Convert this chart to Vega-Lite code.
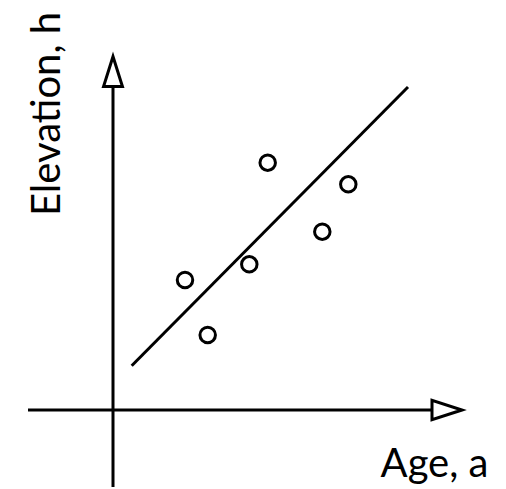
{
  "$schema": "https://vega.github.io/schema/vega-lite/v6.json",
  "width": 506,
  "height": 489,
  "autosize": {"type": "fit", "contains": "padding"},
  "padding": 0,
  "background": "white",
  "config": {"view": {"stroke": null}},
  "datasets": {
    "points": [
      {"age": 7.2, "elev": 13.0},
      {"age": 9.47, "elev": 7.5},
      {"age": 13.63, "elev": 14.57},
      {"age": 15.47, "elev": 24.73},
      {"age": 20.93, "elev": 17.83},
      {"age": 23.53, "elev": 22.57}
    ],
    "fit": [
      {"age": 1.87, "elev": 4.43},
      {"age": 29.5, "elev": 32.3}
    ],
    "axes": [
      {"axis": "y", "x1": 0, "x2": 0, "y1": -7.7, "y2": 32.3},
      {"axis": "x", "x1": -8.5, "x2": 31.9, "y1": 0, "y2": 0}
    ],
    "heads": [
      {"axis": "y", "x": 0, "y": 33.85, "sym": "M0,-1L0.63,1L-0.63,1Z"},
      {"axis": "x", "x": 33.4, "y": 0, "sym": "M1,0L-1,0.65L-1,-0.65Z"}
    ],
    "labels": [
      {"text": "Elevation, h", "x": -5.3, "y": 29.6, "angle": 270},
      {"text": "Age, a", "x": 32.15, "y": -6.7, "angle": 0}
    ]
  },
  "layer": [
    {
      "data": {"name": "axes"},
      "mark": {"type": "rule", "color": "black", "strokeWidth": 3},
      "encoding": {
        "x": {"field": "x1", "type": "quantitative", "scale": {"domain": [-11.3, 39.3], "nice": false, "zero": false}, "axis": null},
        "x2": {"field": "x2"},
        "y": {"field": "y1", "type": "quantitative", "scale": {"domain": [-7.9, 41.0], "nice": false, "zero": false}, "axis": null},
        "y2": {"field": "y2"}
      }
    },
    {
      "data": {"name": "heads"},
      "mark": {"type": "point", "filled": true, "fill": "white", "stroke": "black", "strokeWidth": 3, "opacity": 1, "size": 900},
      "encoding": {
        "x": {"field": "x", "type": "quantitative"},
        "y": {"field": "y", "type": "quantitative"},
        "shape": {"field": "sym", "type": "nominal", "scale": null}
      }
    },
    {
      "data": {"name": "fit"},
      "mark": {"type": "line", "color": "black", "strokeWidth": 3},
      "encoding": {
        "x": {"field": "age", "type": "quantitative"},
        "y": {"field": "elev", "type": "quantitative"}
      }
    },
    {
      "data": {"name": "points"},
      "mark": {"type": "point", "shape": "circle", "filled": false, "stroke": "black", "strokeWidth": 3, "opacity": 1, "size": 240},
      "encoding": {
        "x": {"field": "age", "type": "quantitative"},
        "y": {"field": "elev", "type": "quantitative"}
      }
    },
    {
      "data": {"name": "labels"},
      "mark": {"type": "text", "font": "Lato", "fontSize": 40, "color": "black", "align": "center", "baseline": "alphabetic"},
      "encoding": {
        "x": {"field": "x", "type": "quantitative"},
        "y": {"field": "y", "type": "quantitative"},
        "text": {"field": "text"},
        "angle": {"field": "angle", "type": "quantitative", "scale": null}
      }
    }
  ]
}
